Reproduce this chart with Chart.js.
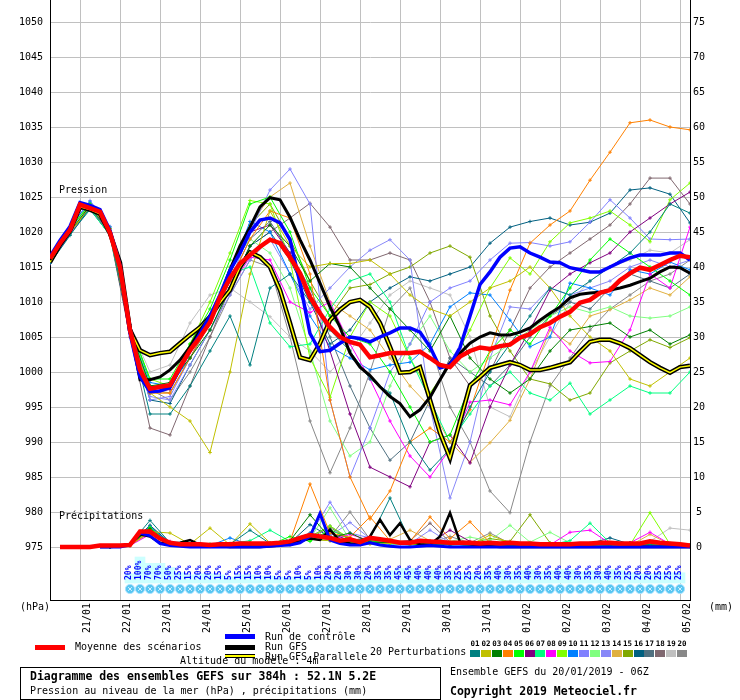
<!DOCTYPE html>
<html>
<head>
<meta charset="utf-8">
<script src="https://cdn.jsdelivr.net/npm/chart.js@4.4.0/dist/chart.umd.min.js"></script>
<style>
body { margin: 0; background: #fff; }
#wrap { position: relative; width: 740px; height: 700px; font-family: "DejaVu Sans Mono", monospace; font-size: 10px; color: #000; }
#chart { position: absolute; left: 0; top: 0; }
.t { position: absolute; white-space: pre; line-height: 1; }
.b { font-weight: bold; }
.sw { position: absolute; }
</style>
</head>
<body>
<div id="wrap">
  <canvas id="chart" width="740" height="700"></canvas>

  <div class="t" style="left:59px;top:185px;">Pression</div>
  <div class="t" style="left:59px;top:511px;">Précipitations</div>
  <div class="t" style="left:20px;top:602px;">(hPa)</div>
  <div class="t" style="left:709px;top:602px;">(mm)</div>

  <!-- legende -->
  <div class="sw" style="left:35px;top:645px;width:30px;height:5px;background:#ff0000;"></div>
  <div class="t" style="left:75px;top:642px;">Moyenne des scénarios</div>
  <div class="sw" style="left:225px;top:634px;width:30px;height:5px;background:#0000ff;"></div>
  <div class="t" style="left:265px;top:632px;">Run de contrôle</div>
  <div class="sw" style="left:225px;top:645px;width:30px;height:5px;background:#000;"></div>
  <div class="t" style="left:265px;top:642px;">Run GFS</div>
  <div class="t" style="left:180px;top:656px;">Altitude du modèle : 4m</div>
  <div class="sw" style="left:225px;top:654px;width:30px;height:2px;background:#ffff00;border-top:1px solid #000;border-bottom:1px solid #000;"></div>
  <div class="t" style="left:265px;top:652px;">Run GFS Parallele</div>
  <div class="t" style="left:370px;top:647px;">20 Perturbations</div>
  <div id="members"></div>

  <div class="sw" style="left:20px;top:667px;width:419px;height:31px;border:1px solid #000;"></div>
  <div class="t b" style="left:30px;top:671px;font-size:11.5px;">Diagramme des ensembles GEFS sur 384h : 52.1N 5.2E</div>
  <div class="t" style="left:30px;top:686px;">Pression au niveau de la mer (hPa) , précipitations (mm)</div>
  <div class="t" style="left:450px;top:667px;">Ensemble GEFS du 20/01/2019 - 06Z</div>
  <div class="t b" style="left:450px;top:686px;font-size:11.5px;">Copyright 2019 Meteociel.fr</div>
</div>

<script>
// echeances : runs principaux toutes les 6h, perturbations toutes les 12h (0 a 384h)
const STEP_MAIN = 6;
const STEP_PERT = 12;

// etiquettes des jours (00Z)
const dayLabels = ['21/01', '22/01', '23/01', '24/01', '25/01', '26/01', '27/01', '28/01',
    '29/01', '30/01', '31/01', '01/02', '02/02', '03/02', '04/02', '05/02'];
const pressureTicks = [975, 980, 985, 990, 995, 1000, 1005, 1010, 1015, 1020, 1025, 1030, 1035, 1040, 1045, 1050];
const rainTicks = [0, 5, 10, 15, 20, 25, 30, 35, 40, 45, 50, 55, 60, 65, 70, 75];

// pression moyenne des scenarios (hPa, pas de 6h)
const meanPres = [1016.2, 1018.4, 1020.3, 1023.9, 1023.4, 1022.9, 1019.9, 1015,
    1006, 1000.3, 997.6, 997.9, 998.1, 1000.7, 1003.1, 1005,
    1007.1, 1010.7, 1013.4, 1015.5, 1016.7, 1017.9, 1018.9, 1018.4,
    1016.4, 1014.1, 1010.7, 1008.4, 1006.4, 1005, 1004.3, 1003.9,
    1002.1, 1002.4, 1002.7, 1002.7, 1002.7, 1002.9, 1002, 1001,
    1000.7, 1002.2, 1003, 1003.5, 1003.3, 1003.7, 1003.9, 1004.9,
    1005.4, 1006.4, 1007, 1007.9, 1008.6, 1009.9, 1010.3, 1011.3,
    1011.7, 1013.1, 1014.1, 1014.9, 1014.6, 1015.3, 1016, 1016.6, 1016.4];
// run de controle
const controlPres = [1016.5, 1018.8, 1020.8, 1024.2, 1023.8, 1023.2, 1020.2, 1015.2,
    1005.5, 999.3, 997.2, 997.3, 997.8, 1000.5, 1003, 1005.5,
    1008, 1011, 1014.5, 1017, 1020, 1021.7, 1022, 1021.3,
    1018.9, 1012.7, 1005.5, 1002.9, 1003.1, 1004.1, 1005, 1004.8,
    1004.3, 1005, 1005.6, 1006.3, 1006.3, 1005.7, 1003.6, 1000.6,
    1001, 1003.5, 1008, 1012.5, 1014.3, 1016.4, 1017.7, 1017.9,
    1017, 1016.4, 1015.7, 1015.6, 1014.9, 1014.6, 1014.3, 1014.3,
    1015, 1015.7, 1016.3, 1016.7, 1016.7, 1016.7, 1017, 1017, 1016];
// run GFS
const gfsPres = [1016, 1018.5, 1020.5, 1024, 1023.5, 1023, 1020, 1015.3,
    1006.5, 998.9, 998.9, 999.3, 1000.3, 1001.7, 1003.6, 1006,
    1007.9, 1010.7, 1014.6, 1018, 1020.7, 1023.6, 1024.9, 1024.6,
    1022.1, 1018.9, 1016, 1012.7, 1009.3, 1006.4, 1002.7, 1000.7,
    999.5, 997.9, 996.5, 995.5, 993.6, 994.6, 996.4, 998.9,
    1001.3, 1002.7, 1004.1, 1005, 1005.6, 1005.3, 1005.3, 1005.7,
    1006.3, 1007.4, 1008.4, 1009.3, 1010.6, 1011.1, 1011.3, 1011.4,
    1011.7, 1012, 1012.4, 1012.9, 1013.4, 1014.3, 1015, 1014.9, 1014.1];
// run GFS parallele
const parallelPres = [1015.7, 1018.2, 1020.2, 1023.6, 1023.2, 1022.6, 1019.8, 1015.6,
    1006, 1003.1, 1002.4, 1002.7, 1002.9, 1004.1, 1005.3, 1006.4,
    1007.9, 1009.9, 1011.7, 1015, 1017.1, 1016.4, 1015, 1011.7,
    1007, 1002.1, 1001.7, 1004.1, 1007.4, 1008.9, 1010, 1010.3,
    1009.3, 1007, 1003.6, 999.9, 1000, 1000.7, 996, 991.3,
    987.7, 992.9, 998.1, 999.3, 1000.6, 1001, 1001.4, 1001,
    1000.3, 1000.3, 1000.6, 1001, 1001.4, 1002.9, 1004.3, 1004.6,
    1004.6, 1004.1, 1003.4, 1002.4, 1001.4, 1000.6, 999.9, 1000.7, 1000.9];

// precipitations (mm / 6h)
const meanRain = [null, 0, 0, 0, 0, 0.2, 0.2, 0.2,
    0.3, 2.2, 2.2, 1.2, 0.6, 0.4, 0.4, 0.4,
    0.3, 0.4, 0.4, 0.5, 0.5, 0.5, 0.5, 0.6,
    0.8, 1.3, 1.7, 1.5, 1.3, 0.9, 1.1, 0.7,
    1.3, 1.1, 0.9, 0.6, 0.6, 0.9, 0.8, 0.7,
    0.6, 0.6, 0.6, 0.5, 0.6, 0.5, 0.6, 0.5,
    0.5, 0.4, 0.4, 0.4, 0.4, 0.5, 0.5, 0.6,
    0.6, 0.5, 0.5, 0.5, 0.8, 0.6, 0.5, 0.4, 0.2];
const controlRain = [null, null, null, null, null, 0, 0, 0,
    0.3, 2.0, 1.6, 0.5, 0.2, 0.1, 0, 0,
    0, 0, 0, 0, 0, 0, 0.1, 0.2,
    0.3, 0.6, 1.5, 4.8, 1.0, 0.5, 0.3, 0.3,
    0.6, 0.3, 0.1, 0, 0, 0.1, 0.2, 0.1,
    0, 0, 0, 0, 0, 0, 0, 0,
    0, 0, 0, 0, 0, 0, 0, 0,
    0, 0, 0, 0, 0, 0, 0, 0, 0];
const gfsRain = [null, null, null, null, null, 0, 0, 0.1,
    0.3, 1.8, 1.5, 0.6, 0.5, 0.6, 1.0, 0.3,
    0.2, 0.1, 0, 0, 0, 0, 0.1, 0.2,
    0.5, 0.8, 1.2, 1.0, 2.5, 0.8, 0.5, 0.4,
    1.5, 3.9, 1.7, 3.4, 1.0, 0.4, 0.3, 1.5,
    4.9, 0.7, 0.4, 0.2, 0.1, 0, 0, 0,
    0, 0, 0, 0, 0, 0, 0, 0,
    0, 0, 0, 0, 0, 0, 0, 0, 0];

// perturbations : pression (hPa, pas de 12h)
const pres01 = [1015.5, 1019.5, 1023.5, 1020, 1006, 994, 994, 998, 1003, 1008, 1001, 1012, 1014, 1010, 1006, 1003, 999, 997, 990, 986, 989, 995, 1000, 1004, 1008, 1012, 1011, 1013, 1015, 1017, 1020, 1024, 1022.7];
const pres02 = [1016, 1020, 1023.5, 1020.5, 1005.5, 997, 995, 993, 988.5, 1000, 1014, 1023, 1018, 1015, 1015.5, 1015.5, 1016, 1014, 1011, 1009, 1008, 1010, 1012, 1013, 1015, 1012, 1008, 1005, 1003, 999, 998, 1000, 1002];
const pres03 = [1016, 1020, 1023.8, 1020, 1006, 998, 998.5, 1002, 1006, 1012, 1018, 1021, 1018, 1013, 1015.5, 1015, 1012, 1009, 1006, 1003, 1008, 1002, 999, 997, 999, 1003, 1006, 1006.5, 1007, 1005, 1006, 1004, 1005.3];
const pres04 = [1016, 1020, 1023.5, 1020, 1006, 997, 997, 1002, 1007, 1013, 1019, 1023, 1022, 1014, 996, 985, 979, 983, 990, 992, 990, 994.6, 1003, 1011.7, 1018.4, 1021, 1023, 1027.4, 1031.4, 1035.6, 1036, 1035, 1034.6];
const pres05 = [1016.5, 1020.5, 1024, 1020.5, 1006.5, 999, 999, 1004, 1009, 1016, 1024, 1025, 1020, 1012, 1008, 1005, 1004, 1000, 995, 990, 991, 998, 1003, 1006, 1004, 1008, 1012, 1016, 1019, 1017, 1015, 1013, 1011];
const pres06 = [1015.8, 1020, 1023.5, 1020, 1005.5, 997, 997.5, 1003, 1008, 1014, 1020, 1021, 1017, 1011, 1003, 994, 986.4, 985, 983.6, 990, 991, 987, 995, 1001, 1006, 1011.7, 1014, 1015.6, 1017, 1020, 1022, 1024, 1025.7];
const pres07 = [1016, 1020, 1023.3, 1019.5, 1006, 998, 998, 1003, 1008, 1014, 1015, 1007, 1003.6, 1004, 1009, 1013, 1014, 1010, 1002, 996, 990, 994, 998, 1000, 997, 996, 998.4, 994, 996, 998, 997, 997, 1000];
const pres08 = [1015.5, 1019.8, 1023.6, 1019.8, 1006, 997, 998, 1003, 1008, 1012, 1016.4, 1016, 1010, 1008.5, 1010, 1004, 999, 993, 988, 985, 989, 995.7, 996, 995.3, 1000, 1006.4, 1003, 1001.3, 1001.5, 1006, 1014, 1012, 1020.7];
const pres09 = [1016.3, 1020.5, 1024, 1020, 1006.5, 999, 998, 1004, 1010, 1017, 1024.5, 1024, 1016, 1002, 996.4, 1005, 1010, 1008, 1002, 997, 1001, 1006, 1012, 1016.3, 1014, 1018.6, 1021.3, 1022, 1023, 1021, 1018.6, 1024.6, 1027];
const pres10 = [1016.5, 1020.8, 1024.3, 1020.7, 1006.8, 998.5, 998, 1002, 1007, 1014, 1021.5, 1020, 1014, 1008, 1003.6, 1002, 1000.3, 1001, 1001.4, 1004, 1009.3, 1011.3, 1011, 1007.4, 1003.6, 1005, 1012.7, 1012, 1011, 1014.6, 1014, 1015.7, 1014.6];
const pres11 = [1016.2, 1020.3, 1024, 1020.2, 1006, 996, 996.5, 1002, 1007, 1013, 1020, 1026, 1029, 1024, 996, 985, 992, 1000, 1004, 1010, 1012, 1013, 1016, 1018.4, 1018.5, 1018, 1018.6, 1021.4, 1024.6, 1022, 1019, 1018.9, 1019];
const pres12 = [1016, 1020, 1023.8, 1020.3, 1006.4, 998, 997.5, 1003, 1008, 1015, 1019, 1017, 1012, 1003, 993, 988, 990, 998, 1004, 1008, 1003, 1000, 1002, 1004, 1006, 1008, 1009.3, 1008.5, 1009.3, 1008, 1007.7, 1008, 1009.3];
const pres13 = [1016.5, 1020.6, 1024.5, 1020.8, 1006.5, 996.5, 996, 1001, 1006, 1011, 1016, 1019, 1014, 1009, 1012, 1015, 1017.4, 1018.9, 1016, 995, 982, 990, 1002, 1009.3, 1009, 1012, 1011, 1012, 1013, 1015, 1016, 1015, 1016];
const pres14 = [1015.8, 1019.8, 1023.5, 1020.5, 1006, 997, 997, 1002, 1007.5, 1015, 1021, 1025, 1027, 1018, 1010, 1008, 1006, 1002, 998, 995, 990, 987.1, 989.9, 993.1, 999, 1006, 1004, 1008, 1008.9, 1010.3, 1012, 1011, 1013.6];
const pres15 = [1016, 1020.2, 1023.7, 1020, 1006.2, 998, 998, 1003, 1008, 1014, 1021, 1024, 1019, 1013, 1008, 1012, 1012.5, 1014, 1015, 1017, 1018, 1016.4, 1008, 1003, 999, 998.3, 996, 997, 1001.3, 1003, 1004.6, 1003.5, 1004.9];
const pres16 = [1015.5, 1019.7, 1023.2, 1019.6, 1005.5, 996, 995.5, 1001, 1006, 1012, 1018, 1020, 1016, 1010, 1004, 1006, 1010, 1012, 1013.6, 1013, 1014, 1015, 1018.4, 1020.7, 1021.5, 1022, 1021, 1021.4, 1022.7, 1026, 1026.3, 1025.4, 1021.3];
const pres17 = [1016, 1020, 1023.6, 1019.8, 1005.8, 997.5, 997, 1002, 1007, 1013, 1019, 1021.5, 1017, 1012, 1005, 998, 992, 987.4, 990, 996, 1002, 1000, 998, 1001, 1005, 1008, 1010, 1009, 1012, 1014, 1013, 1012, 1014];
const pres18 = [1016, 1020, 1023.4, 1019.5, 1005, 992, 991, 998, 1005, 1012, 1018, 1020, 1022, 1024.1, 1020.7, 1016, 1016, 1017, 1016, 1010, 1002, 998, 1000, 1006, 1012, 1015, 1017, 1019, 1021, 1024, 1027.7, 1027.7, 1024];
const pres19 = [1016.3, 1020.4, 1024.2, 1020.3, 1006.4, 1000, 1001, 1007, 1011, 1012, 1010, 1007.9, 1005, 1003, 1000, 1003, 1007, 1011, 1013, 1012, 1011, 1005, 995, 993.6, 1000, 1005, 1010, 1013, 1015, 1016, 1017.4, 1017, 1018.9];
const pres20 = [1015.9, 1020, 1023.5, 1019.7, 1005.8, 997.5, 996, 1000, 1005, 1011, 1016, 1015, 1005, 993, 985.6, 992, 1000, 1009, 1012, 1004, 995, 990, 983, 979.9, 990, 998, 1002, 1006, 1009, 1011, 1013, 1014, 1016];

// perturbations : precipitations (mm, pas de 12h)
const rain01 = [null, null, null, 0, 0.4, 3.8, 0.6, 0.2, 0.3, 0.4, 2.4, 0.5, 0.4, 1.5, 1.1, 0.8, 1.2, 7.0, 0.9, 0.5, 0.3, 0.6, 0.4, 0.2, 0.3, 0.2, 0.1, 0.4, 0.5, 0.2, 0.3, 0.2, 0.1];
const rain02 = [null, null, null, 0, 0.2, 2.2, 2.0, 0.4, 2.7, 0.3, 3.3, 0.6, 0.3, 1.2, 0.9, 0.6, 0.4, 0.5, 0.3, 0.8, 0.4, 0.3, 1.7, 0.6, 0.4, 0.2, 0.2, 0.3, 0.1, 0.2, 0.5, 0.2, 0.1];
const rain03 = [null, null, null, 0, 0.3, 2.6, 0.4, 0.2, 0.1, 0.2, 0.3, 0.5, 0.9, 4.6, 1.3, 2.0, 0.7, 0.6, 0.4, 0.3, 0.5, 0.2, 0.3, 0.5, 0.4, 0.3, 0.4, 0.2, 0.3, 0.6, 0.3, 0.4, 0.2];
const rain04 = [null, null, null, 0, 0.2, 2.4, 0.5, 0.3, 0.2, 0.1, 0.2, 0.4, 0.8, 9.0, 2.0, 1.4, 4.3, 0.9, 0.8, 4.3, 1.2, 3.6, 0.6, 0.3, 0.2, 0.4, 0.3, 0.2, 0.2, 0.3, 0.4, 0.3, 0.1];
const rain05 = [null, null, null, 0, 0.3, 2.8, 0.3, 0.2, 0.4, 0.2, 0.6, 0.3, 1.5, 0.8, 2.5, 1.1, 0.9, 0.5, 0.6, 0.8, 0.4, 0.3, 0.4, 0.3, 0.2, 0.5, 0.3, 0.4, 0.3, 0.2, 0.6, 0.2, 0.2];
const rain06 = [null, null, null, 0, 0.4, 2.1, 0.4, 0.3, 0.2, 0.1, 0.2, 0.3, 0.5, 1.3, 2.0, 0.9, 1.4, 0.7, 0.9, 0.6, 2.4, 0.8, 0.5, 0.3, 0.2, 0.2, 0.3, 0.2, 0.4, 0.3, 0.2, 0.3, 0.2];
const rain07 = [null, null, null, 0, 0.3, 2.3, 0.6, 0.4, 0.3, 0.5, 0.9, 2.4, 0.8, 1.1, 1.5, 0.7, 0.6, 0.5, 0.3, 0.4, 0.6, 0.3, 0.4, 0.2, 0.5, 0.3, 0.9, 3.4, 0.6, 0.4, 0.3, 0.5, 0.2];
const rain08 = [null, null, null, 0, 0.2, 1.8, 0.8, 0.3, 0.2, 0.2, 0.4, 0.3, 0.6, 1.6, 1.0, 1.8, 0.9, 0.6, 0.5, 0.7, 0.4, 0.6, 0.3, 0.3, 0.4, 0.3, 2.1, 2.4, 0.5, 0.6, 2.1, 0.4, 0.2];
const rain09 = [null, null, null, 0, 0.3, 2.7, 0.4, 0.2, 0.3, 0.2, 0.3, 0.4, 0.7, 1.4, 3.0, 1.2, 0.8, 1.0, 0.4, 0.5, 0.3, 0.4, 0.2, 0.6, 0.3, 0.2, 0.3, 0.4, 0.2, 0.3, 4.9, 0.4, 0.2];
const rain10 = [null, null, null, 0, 0.2, 2.9, 0.5, 0.3, 0.2, 1.3, 0.3, 0.5, 0.8, 2.0, 1.1, 0.9, 0.6, 0.4, 0.5, 0.3, 0.4, 0.2, 0.3, 0.4, 0.2, 0.3, 0.2, 0.3, 0.2, 0.2, 0.3, 0.2, 0.1];
const rain11 = [null, null, null, 0, 0.3, 2.4, 0.4, 0.3, 0.2, 0.3, 0.2, 0.4, 0.9, 1.7, 6.4, 2.0, 1.3, 0.6, 0.7, 0.4, 0.5, 0.3, 0.6, 0.2, 0.3, 0.2, 0.3, 0.2, 0.4, 0.3, 0.2, 0.3, 0.2];
const rain12 = [null, null, null, 0, 0.4, 2.2, 0.5, 0.2, 0.3, 0.2, 0.4, 0.6, 0.7, 1.2, 5.6, 1.0, 0.9, 0.8, 0.6, 0.5, 0.8, 1.4, 0.9, 3.1, 0.7, 2.1, 0.6, 0.4, 0.3, 0.5, 0.4, 0.3, 0.2];
const rain13 = [null, null, null, 0, 0.3, 2.6, 0.3, 0.2, 0.2, 0.2, 0.3, 0.5, 0.6, 1.4, 1.6, 3.5, 1.2, 0.8, 0.5, 2.4, 0.6, 0.4, 0.3, 0.4, 0.2, 0.3, 0.2, 0.3, 0.2, 0.3, 0.2, 0.2, 0.1];
const rain14 = [null, null, null, 0, 0.2, 2.0, 0.4, 0.3, 0.2, 0.2, 0.3, 0.4, 0.8, 2.0, 1.2, 0.8, 0.9, 1.1, 2.4, 0.9, 0.6, 0.5, 0.4, 0.3, 0.5, 0.4, 0.3, 0.2, 0.3, 0.2, 1.8, 0.4, 0.3];
const rain15 = [null, null, null, 0, 0.3, 2.5, 0.5, 0.2, 0.3, 0.2, 0.2, 0.3, 0.5, 1.1, 0.9, 0.8, 0.7, 0.6, 0.5, 0.4, 0.6, 0.5, 1.2, 0.8, 4.6, 0.6, 0.4, 0.3, 0.2, 0.4, 0.3, 0.2, 0.2];
const rain16 = [null, null, null, 0, 0.4, 3.1, 0.6, 0.3, 0.2, 0.3, 0.5, 0.4, 0.6, 3.2, 1.4, 0.9, 0.8, 0.7, 0.4, 0.5, 0.3, 0.4, 0.3, 0.2, 0.3, 0.2, 0.4, 0.5, 1.3, 0.4, 0.3, 0.2, 0.1];
const rain17 = [null, null, null, 0, 0.3, 3.0, 0.5, 0.4, 0.3, 0.2, 0.4, 0.5, 0.7, 1.5, 3.0, 1.1, 0.7, 0.9, 0.5, 0.6, 0.4, 0.3, 0.4, 0.3, 0.2, 0.3, 0.2, 0.3, 0.2, 0.3, 0.4, 0.3, 0.2];
const rain18 = [null, null, null, 0, 0.2, 2.7, 0.7, 0.3, 0.2, 0.2, 0.3, 0.4, 0.9, 1.3, 2.8, 1.0, 0.8, 0.6, 0.9, 3.4, 0.7, 0.5, 0.4, 0.3, 0.2, 0.3, 0.4, 0.2, 0.3, 0.2, 0.3, 0.2, 0.2];
const rain19 = [null, null, null, 0, 0.3, 2.3, 0.4, 0.3, 0.2, 0.2, 0.3, 0.3, 0.5, 1.2, 1.0, 0.7, 0.8, 0.5, 0.4, 0.3, 0.5, 0.4, 0.3, 0.6, 0.3, 0.4, 0.3, 0.5, 0.4, 0.6, 0.8, 2.7, 2.4];
const rain20 = [null, null, null, 0, 0.3, 2.8, 0.5, 0.3, 0.2, 0.3, 0.4, 0.5, 0.8, 1.6, 1.4, 5.0, 1.1, 0.8, 0.7, 0.6, 1.5, 0.6, 2.0, 0.5, 0.3, 0.4, 0.3, 0.2, 0.3, 0.2, 0.3, 0.2, 0.1];

// probabilite de precipitations (%), a partir de 48h, pas de 6h
const PCT_START = 48;
const rainProb = [20, 100, 70, 70, 50, 25, 15, 20, 20, 15, 5, 15, 15, 10, 10, 5, 5, 10, 5, 10,
    20, 20, 30, 30, 20, 35, 35, 45, 45, 40, 40, 40, 35, 25, 25, 20, 35, 40, 30, 35,
    40, 30, 35, 40, 40, 30, 35, 30, 40, 35, 25, 20, 20, 25, 25, 25];

const memberColors = ['#008080', '#c0c000', '#008000', '#ff8000', '#00ff00', '#800080', '#00ff80',
    '#ff00ff', '#80ff00', '#0080ff', '#8080ff', '#80ff80', '#8888f8', '#e0b040', '#80a800',
    '#006080', '#507080', '#806870', '#c0c0c0', '#888888'];
const memberPres = [pres01, pres02, pres03, pres04, pres05, pres06, pres07, pres08, pres09, pres10,
    pres11, pres12, pres13, pres14, pres15, pres16, pres17, pres18, pres19, pres20];
const memberRain = [rain01, rain02, rain03, rain04, rain05, rain06, rain07, rain08, rain09, rain10,
    rain11, rain12, rain13, rain14, rain15, rain16, rain17, rain18, rain19, rain20];

const dayHours = dayLabels.map((d, i) => 18 + 24 * i);
const probHours = rainProb.map((p, i) => PCT_START + STEP_MAIN * i);

// niveaux de la bande du bas (axe precip / axe prob caches)
const SNOW_LEVEL = -6;
const BAR_BASE = -24;

function pts(values, step) {
    return values.map((v, i) => ({ x: i * step, y: v }));
}

// pas de marge automatique autour des axes : zone de trace fixe
function noPadding(s) {
    s.paddingTop = 0; s.paddingBottom = 0; s.paddingLeft = 0; s.paddingRight = 0;
}

const datasets = [];

// bandes de probabilite (cyan) et pictos de precipitation
datasets.push({
    type: 'bar', yAxisID: 'yProb', order: 100,
    data: probHours.map((h, i) => ({ x: h, y: [BAR_BASE, rainProb[i]] })),
    backgroundColor: '#ccffff', borderWidth: 0, barThickness: 10, grouped: false
});
datasets.push({
    yAxisID: 'yP', order: 99, showLine: false,
    data: probHours.map(h => ({ x: h, y: SNOW_LEVEL })),
    pointRadius: 4.6, pointBackgroundColor: '#58c6f2', pointBorderColor: '#a6e2ff', pointBorderWidth: 1
});
datasets.push({
    yAxisID: 'yP', order: 98, showLine: false,
    data: probHours.map(h => ({ x: h, y: SNOW_LEVEL })),
    pointStyle: 'crossRot', pointRadius: 2.6, pointBorderColor: '#d6f3ff', pointBorderWidth: 1
});

// perturbations
memberColors.forEach((c, i) => {
    const common = {
        borderColor: c, borderWidth: 1, pointStyle: 'cross', pointRadius: 1.8,
        pointBorderColor: c, pointBorderWidth: 1, tension: 0, fill: false
    };
    datasets.push(Object.assign({ yAxisID: 'y', order: 50, data: pts(memberPres[i], STEP_PERT) }, common));
    datasets.push(Object.assign({ yAxisID: 'yP', order: 49, data: pts(memberRain[i], STEP_PERT) }, common));
});

// runs principaux
datasets.push({ yAxisID: 'y', order: 31, data: pts(parallelPres, STEP_MAIN), borderColor: '#000', borderWidth: 4.5, pointRadius: 0 });
datasets.push({ yAxisID: 'y', order: 30, data: pts(parallelPres, STEP_MAIN), borderColor: '#ffff00', borderWidth: 1.5, pointRadius: 0 });
datasets.push({ yAxisID: 'y', order: 20, data: pts(gfsPres, STEP_MAIN), borderColor: '#000', borderWidth: 3, pointRadius: 0 });
datasets.push({ yAxisID: 'yP', order: 21, data: pts(gfsRain, STEP_MAIN), borderColor: '#000', borderWidth: 2.5, pointRadius: 0 });
datasets.push({ yAxisID: 'y', order: 10, data: pts(controlPres, STEP_MAIN), borderColor: '#0000ff', borderWidth: 3.5, pointRadius: 0 });
datasets.push({ yAxisID: 'yP', order: 11, data: pts(controlRain, STEP_MAIN), borderColor: '#0000ff', borderWidth: 3, pointRadius: 0 });
datasets.push({ yAxisID: 'y', order: 0, data: pts(meanPres, STEP_MAIN), borderColor: '#ff0000', borderWidth: 4.5, pointRadius: 0 });
datasets.push({ yAxisID: 'yP', order: 1, data: pts(meanRain, STEP_MAIN), borderColor: '#ff0000', borderWidth: 4.5, pointRadius: 0 });

// etiquettes des dates et pourcentages
const textPlugin = {
    id: 'textLabels',
    afterDraw(chart) {
        const ctx = chart.ctx, xs = chart.scales.x, area = chart.chartArea;
        ctx.save();
        ctx.fillStyle = '#000';
        ctx.font = '10px "DejaVu Sans Mono", monospace';
        ctx.textAlign = 'right';
        ctx.textBaseline = 'middle';
        dayHours.forEach((h, i) => {
            ctx.save();
            ctx.translate(xs.getPixelForValue(h) + 7.5, area.bottom + 3);
            ctx.rotate(-Math.PI / 2);
            ctx.fillText(dayLabels[i], 0, 0);
            ctx.restore();
        });
        ctx.fillStyle = '#0000ff';
        ctx.font = 'bold 8px "DejaVu Sans Mono", monospace';
        ctx.textAlign = 'left';
        probHours.forEach((h, i) => {
            ctx.save();
            ctx.translate(xs.getPixelForValue(h) - 1.5, area.bottom - 20);
            ctx.rotate(-Math.PI / 2);
            ctx.fillText(rainProb[i] + '%', 0, 0);
            ctx.restore();
        });
        ctx.restore();
    }
};

Chart.defaults.font.family = '"DejaVu Sans Mono", monospace';
Chart.defaults.font.size = 10;
Chart.defaults.color = '#000';

new Chart(document.getElementById('chart'), {
    type: 'line',
    data: { datasets: datasets },
    options: {
        responsive: false,
        animation: false,
        devicePixelRatio: 1,
        layout: { padding: 0, autoPadding: false },
        elements: { line: { tension: 0, fill: false } },
        plugins: { legend: { display: false }, tooltip: { enabled: false } },
        scales: {
            x: {
                type: 'linear', min: 0, max: 384, offset: false,
                afterBuildTicks: s => { s.ticks = dayHours.map(v => ({ value: v })); },
                afterFit: s => { s.height = 100; noPadding(s); },
                ticks: { display: false },
                grid: { color: '#c0c0c0', lineWidth: 1, drawTicks: false, offset: false },
                border: { color: '#000', width: 1 }
            },
            y: {
                position: 'left', min: 967.4286, max: 1053.1429,
                afterBuildTicks: s => { s.ticks = pressureTicks.map(v => ({ value: v })); },
                afterFit: s => { s.width = 50; noPadding(s); },
                ticks: { padding: 7, color: '#000', callback: v => String(v) },
                grid: { color: '#c0c0c0', lineWidth: 1, drawTicks: false },
                border: { color: '#000', width: 1 }
            },
            yP: {
                position: 'right', min: -7.5714, max: 78.1429,
                afterBuildTicks: s => { s.ticks = rainTicks.map(v => ({ value: v })); },
                afterFit: s => { s.width = 50; noPadding(s); },
                ticks: { crossAlign: 'center', color: '#000', callback: v => String(v) },
                grid: { drawOnChartArea: false, drawTicks: false },
                border: { color: '#000', width: 1 }
            },
            yProb: {
                display: false, min: -104.76, max: 2752.4
            }
        }
    },
    plugins: [textPlugin]
});

// cases de couleur des 20 perturbations
const box = document.getElementById('members');
memberColors.forEach((c, i) => {
    const left = 470 + i * 10.9;
    const n = document.createElement('div');
    n.className = 't b';
    n.style.cssText = 'left:' + (left - 1) + 'px;top:640px;width:12px;text-align:center;font-size:7.5px;';
    n.textContent = String(i + 1).padStart(2, '0');
    box.appendChild(n);
    const s = document.createElement('div');
    s.className = 'sw';
    s.style.cssText = 'left:' + left + 'px;top:650px;width:10px;height:7px;background:' + c + ';';
    box.appendChild(s);
});
</script>
</body>
</html>
